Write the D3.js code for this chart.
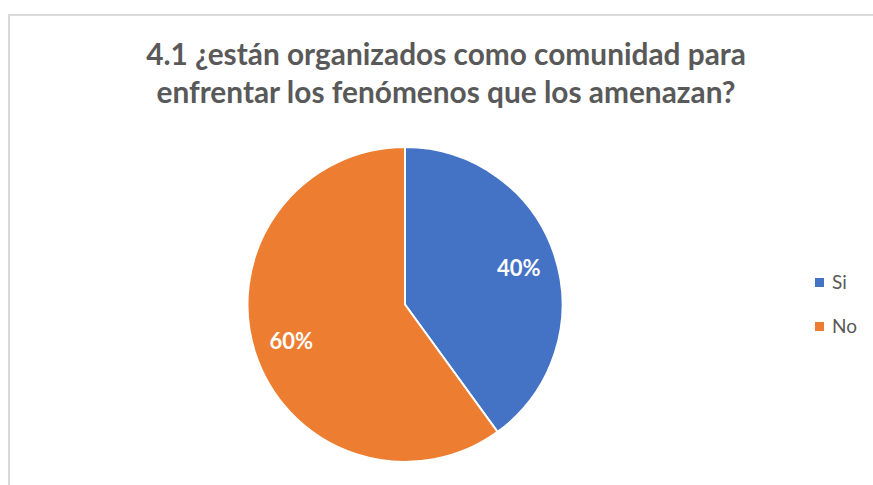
<!DOCTYPE html>
<html lang="es">
<head>
    <meta charset="UTF-8">
    <title>4.1 organizados como comunidad</title>
    <script src="https://cdnjs.cloudflare.com/ajax/libs/d3/7.8.5/d3.min.js"></script>
    <style>
        html, body { margin: 0; padding: 0; background: #fff; }
        svg { display: block; font-family: Lato, "Open Sans", sans-serif; }
    </style>
</head>
<body>
    <svg id="chart" width="873" height="485"></svg>
    <script>
        // data
        var categories = ["Si", "No"];
        var values = [40, 60];
        var colors = ["#4472C4", "#ED7D31"];
        var titleLines = ["4.1 ¿están organizados como comunidad para",
                          "enfrentar los fenómenos que los amenazan?"];

        var svg = d3.select("#chart");

        // chart frame
        svg.append("rect")
           .attr("x", 9).attr("y", 15)
           .attr("width", 900).attr("height", 500)
           .attr("fill", "none")
           .attr("stroke", "#d9d9d9")
           .attr("stroke-width", 2);

        // title, fit to the width of the original
        var title = svg.append("text")
           .attr("text-anchor", "middle")
           .attr("fill", "#595959")
           .style("font-weight", "bold")
           .style("font-size", "26px");
        title.selectAll("tspan")
             .data(titleLines)
             .enter()
             .append("tspan")
             .attr("x", 446)
             .attr("y", function(d, i){ return 65 + i * 38; })
             .text(function(d){ return d; });
        var w = title.select("tspan").node().getComputedTextLength();
        title.style("font-size", (26 * 600 / w) + "px");

        // pie
        var cx = 405, cy = 304.5, r = 157.5;
        var g = svg.append("g").attr("transform", "translate(" + cx + "," + cy + ")");

        var pie = d3.pie().sort(null).value(function(d){ return d; });
        var arcs = pie(values);
        var arc = d3.arc().innerRadius(0).outerRadius(r);
        var labelArc = d3.arc().innerRadius(r * 0.76).outerRadius(r * 0.76);
        var total = d3.sum(values);

        g.selectAll("path")
         .data(arcs)
         .enter()
         .append("path")
         .attr("d", arc)
         .attr("fill", function(d, i){ return colors[i]; })
         .attr("stroke", "#fff")
         .attr("stroke-width", 2);

        g.selectAll("text.lbl")
         .data(arcs)
         .enter()
         .append("text")
         .attr("class", "lbl")
         .attr("transform", function(d){
             var c = labelArc.centroid(d);
             return "translate(" + c[0] + "," + (c[1] + 8) + ")";
         })
         .attr("text-anchor", "middle")
         .attr("fill", "#fff")
         .style("font-weight", "bold")
         .style("font-size", "22px")
         .text(function(d){ return Math.round(d.value / total * 100) + "%"; });

        // legend
        var legend = svg.append("g").attr("transform", "translate(815,278)");
        var item = legend.selectAll("g")
                         .data(categories)
                         .enter()
                         .append("g")
                         .attr("transform", function(d, i){ return "translate(0," + (i * 44) + ")"; });
        item.append("rect")
            .attr("width", 9).attr("height", 9)
            .attr("fill", function(d, i){ return colors[i]; });
        item.append("text")
            .attr("x", 17).attr("y", 11)
            .attr("fill", "#595959")
            .style("font-size", "19px")
            .text(function(d){ return d; });
    </script>
</body>
</html>
